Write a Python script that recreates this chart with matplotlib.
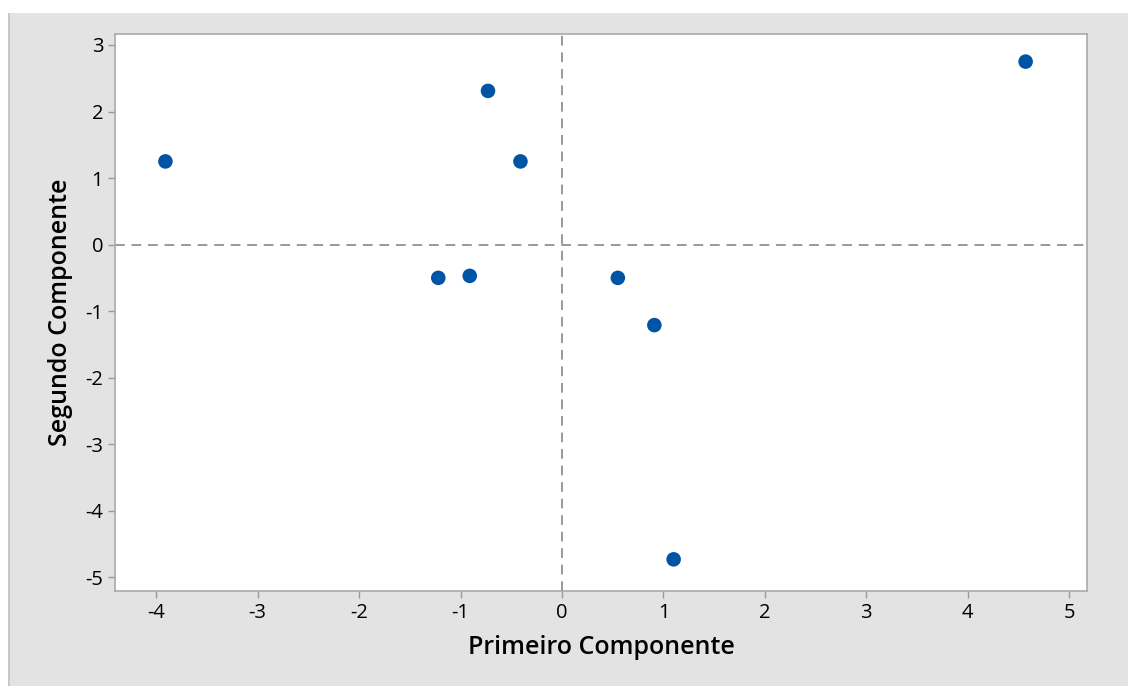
import matplotlib.pyplot as plt
from matplotlib.patches import Rectangle

# component scores
primeiro = [-3.91, -0.73, -0.41, -1.22, -0.91, 0.55, 0.91, 1.10, 4.57]
segundo = [1.25, 2.31, 1.25, -0.50, -0.47, -0.50, -1.21, -4.73, 2.75]

xticks = [-4, -3, -2, -1, 0, 1, 2, 3, 4, 5]
yticks = [-5, -4, -3, -2, -1, 0, 1, 2, 3]

plt.rcParams['font.family'] = ['Open Sans', 'DejaVu Sans']

fig = plt.figure(figsize=(11.28, 6.86), dpi=100)
fig.patch.set_facecolor('white')
# gray panel behind the chart (the top strip is left white, cut-off title)
fig.add_artist(Rectangle((8 / 1128, 0), 1 - 8 / 1128, 1 - 13 / 686,
                         transform=fig.transFigure, facecolor='#e3e3e3',
                         edgecolor='none', zorder=-10))
fig.add_artist(Rectangle((8 / 1128, 0), 1.5 / 1128, 1 - 13 / 686,
                         transform=fig.transFigure, facecolor='#c8c8c8',
                         edgecolor='none', zorder=-9))

ax = fig.add_axes([115 / 1128, 1 - 591 / 686, (1087 - 115) / 1128, (591 - 34) / 686])
ax.set_facecolor('white')

ax.axhline(0, color='#999999', linestyle=(0, (5, 3.5)), linewidth=1.4, zorder=1)
ax.axvline(0, color='#999999', linestyle=(0, (5, 3.5)), linewidth=1.4, zorder=1)
ax.scatter(primeiro, segundo, s=110, color='#0054a6', edgecolors='none', zorder=3)

ax.set_xlim(-4.407, 5.175)
ax.set_ylim(-5.206, 3.165)
ax.set_xticks(xticks)
ax.set_yticks(yticks)
ax.set_xticklabels([str(t) for t in xticks], fontweight='medium')
ax.set_yticklabels([str(t) for t in yticks], fontweight='medium')

for s in ax.spines.values():
    s.set_color('#aaaaaa')
    s.set_linewidth(1.2)
ax.tick_params(colors='#999999', labelcolor='black', labelsize=14.5, length=5, width=1)

ax.set_xlabel('Primeiro Componente', fontsize=18, fontweight='semibold', labelpad=9)
ax.set_ylabel('Segundo Componente', fontsize=18, fontweight='semibold', labelpad=9)

plt.savefig('out.png', dpi=100)
